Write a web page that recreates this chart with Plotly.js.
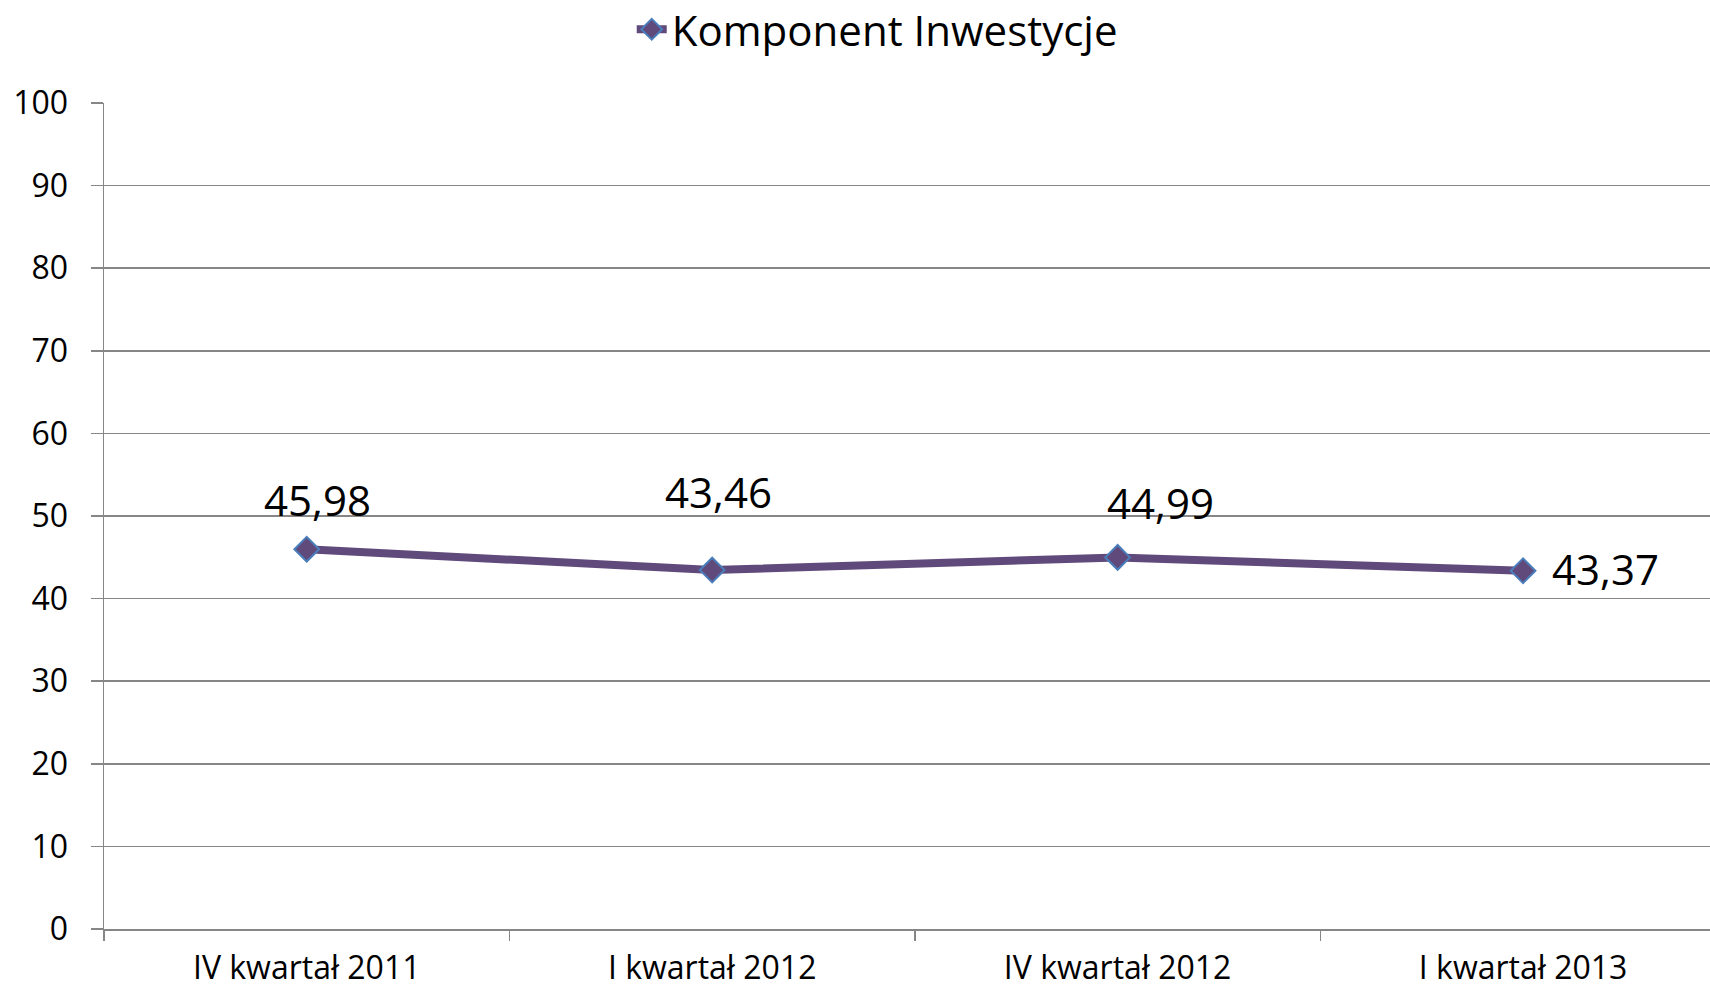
<!DOCTYPE html>
<html>
<head>
<meta charset="utf-8">
<script src="https://cdn.plot.ly/plotly-3.0.1.min.js"></script>
<style>html,body{margin:0;padding:0;background:#fff;}#chart{width:1710px;height:991px;}</style>
</head>
<body>
<div id="chart"></div>
<script>
const categories = ["IV kwartał 2011", "I kwartał 2012", "IV kwartał 2012", "I kwartał 2013"];
const values = [45.98, 43.46, 44.99, 43.37];
const seriesName = "Komponent Inwestycje";
const yTicks = [0, 10, 20, 30, 40, 50, 60, 70, 80, 90, 100];

const fmt = v => v.toFixed(2).replace('.', ',');
const labelShifts = [[11, 50], [6, 79], [43, 55], [82, 2]];

const trace = {
  type: 'scatter',
  mode: 'lines+markers',
  x: categories,
  y: values,
  name: seriesName,
  line: {color: '#604A7B', width: 8},
  marker: {symbol: 'diamond', size: 19, color: '#604A7B', line: {color: '#4A7EBB', width: 2}},
  hoverinfo: 'none'
};

const annotations = values.map((v, i) => ({
  x: categories[i], y: v, xref: 'x', yref: 'y',
  text: fmt(v), showarrow: false,
  xshift: labelShifts[i][0], yshift: labelShifts[i][1],
  font: {family: 'Open Sans', size: 42, color: '#000'}
}));

const layout = {
  width: 1710, height: 991,
  margin: {l: 104, r: 0, t: 103, b: 62, autoexpand: false},
  paper_bgcolor: '#fff', plot_bgcolor: '#fff',
  font: {family: 'Open Sans', color: '#000'},
  showlegend: true,
  legend: {orientation: 'h', xref: 'container', yref: 'paper', x: 0.513, xanchor: 'center', y: 1.089, yanchor: 'middle',
           font: {family: 'Open Sans', size: 42, color: '#000'}},
  xaxis: {
    type: 'category', range: [-0.5, 3.461],
    showgrid: false, showline: true, linecolor: '#868686', linewidth: 1.5,
    ticks: 'outside', tickson: 'boundaries', ticklen: 10, tickcolor: '#868686', tickwidth: 1.5,
    tickfont: {family: 'Open Sans', size: 32, color: '#000'}, ticklabelstandoff: 10,
    zeroline: false, fixedrange: true
  },
  yaxis: {
    range: [0, 100], tickvals: yTicks, ticktext: yTicks.map(String),
    showgrid: true, gridcolor: '#868686', gridwidth: 1.5,
    showline: true, linecolor: '#868686', linewidth: 1.5,
    ticks: 'outside', ticklen: 12, tickcolor: '#868686', tickwidth: 1.5,
    tickfont: {family: 'Open Sans', size: 32, color: '#000'}, ticklabelstandoff: 16,
    zeroline: false, fixedrange: true
  },
  annotations: annotations
};

Plotly.newPlot('chart', [trace], layout, {displayModeBar: false, staticPlot: true});
</script>
</body>
</html>
